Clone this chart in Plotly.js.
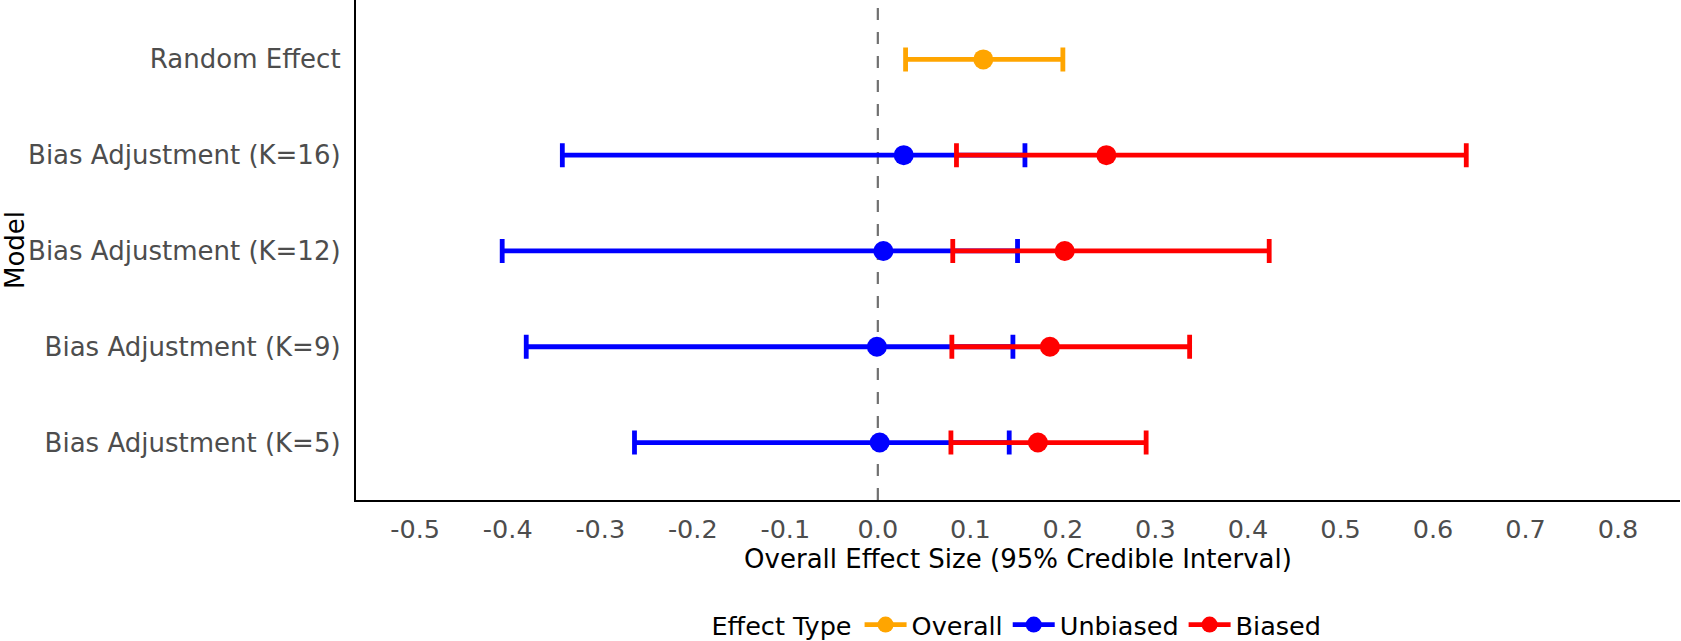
<!DOCTYPE html>
<html><head><meta charset="utf-8">
<script src="https://cdn.plot.ly/plotly-3.0.1.min.js"></script>
<style>html,body{margin:0;padding:0;background:#fff}#chart{width:1681px;height:641px}</style>
</head><body><div id="chart"></div>
<script>
const models = ["Bias Adjustment (K=5)", "Bias Adjustment (K=9)", "Bias Adjustment (K=12)", "Bias Adjustment (K=16)", "Random Effect"];
const overallModel = ["Random Effect"];
const overallEst = [0.114];
const overallLo = [0.030];
const overallHi = [0.200];
const biasModels = ["Bias Adjustment (K=5)", "Bias Adjustment (K=9)", "Bias Adjustment (K=12)", "Bias Adjustment (K=16)"];
const unbiasedEst = [0.002, -0.001, 0.006, 0.028];
const unbiasedLo = [-0.263, -0.380, -0.406, -0.341];
const unbiasedHi = [0.142, 0.146, 0.151, 0.159];
const biasedEst = [0.173, 0.186, 0.202, 0.247];
const biasedLo = [0.079, 0.080, 0.081, 0.085];
const biasedHi = [0.290, 0.337, 0.423, 0.636];
const xTicks = [-0.5,-0.4,-0.3,-0.2,-0.1,0.0,0.1,0.2,0.3,0.4,0.5,0.6,0.7,0.8];

function mk(name, color, ys, est, lo, hi) {
  return {
    type: 'scatter', mode: 'markers', name: name, showlegend: false,
    x: est, y: ys,
    marker: {color: color, size: 20},
    error_x: {type: 'data', symmetric: false,
      array: est.map((v,i)=>hi[i]-v), arrayminus: est.map((v,i)=>v-lo[i]),
      color: color, thickness: 4.8, width: 12}
  };
}
function leg(name, color) {
  return {type:'scatter', mode:'lines+markers', name: name, x:[null], y:[null],
    line:{color:color, width:4.8}, marker:{color:color, size:20}};
}
const data = [
  mk('Unbiased', '#0000FF', biasModels, unbiasedEst, unbiasedLo, unbiasedHi),
  mk('Biased', '#FF0000', biasModels, biasedEst, biasedLo, biasedHi),
  mk('Overall', '#FFA500', overallModel, overallEst, overallLo, overallHi),
  leg('Overall', '#FFA500'), leg('Unbiased', '#0000FF'), leg('Biased', '#FF0000')
];
const font = "DejaVu Sans, sans-serif";
const layout = {
  width: 1681, height: 641,
  margin: {l: 356, r: 1, t: 0, b: 141, autoexpand: false},
  paper_bgcolor: '#fff', plot_bgcolor: '#fff',
  font: {family: font, size: 26, color: '#000'},
  xaxis: {range: [-0.564, 0.867], tickvals: xTicks, ticktext: xTicks.map(v=>v.toFixed(1)),
    showgrid: false, zeroline: false, showline: true, linecolor: '#000', linewidth: 2.2,
    ticks: '', tickfont: {size: 25.5, color: '#4d4d4d'}, ticklabelstandoff: 5,
    title: {text: 'Overall Effect Size (95% Credible Interval)', font: {size: 26, color: '#000'}, standoff: 3}},
  yaxis: {type: 'category', categoryorder: 'array', categoryarray: models, range: [-0.6, 4.62],
    showgrid: false, zeroline: false, showline: true, linecolor: '#000', linewidth: 2.2,
    ticks: '', tickfont: {size: 26, color: '#4d4d4d'}, ticklabelstandoff: 8,
    title: {text: 'Model', font: {size: 26, color: '#000'}, standoff: 2}},
  shapes: [{type: 'line', xref: 'x', yref: 'paper', x0: 0, x1: 0, y0: 0, y1: 1,
    line: {color: '#707070', width: 2.2, dash: '12px,12px'}, layer: 'below'}],
  legend: {orientation: 'h', x: 0.5, xanchor: 'center', y: -0.25, yanchor: 'middle',
    title: {text: 'Effect Type', side: 'left', font: {size: 25.5}}, font: {size: 25.5},
    itemwidth: 42, tracegroupgap: 0}
};
Plotly.newPlot('chart', data, layout, {displayModeBar: false, staticPlot: true});
</script></body></html>
